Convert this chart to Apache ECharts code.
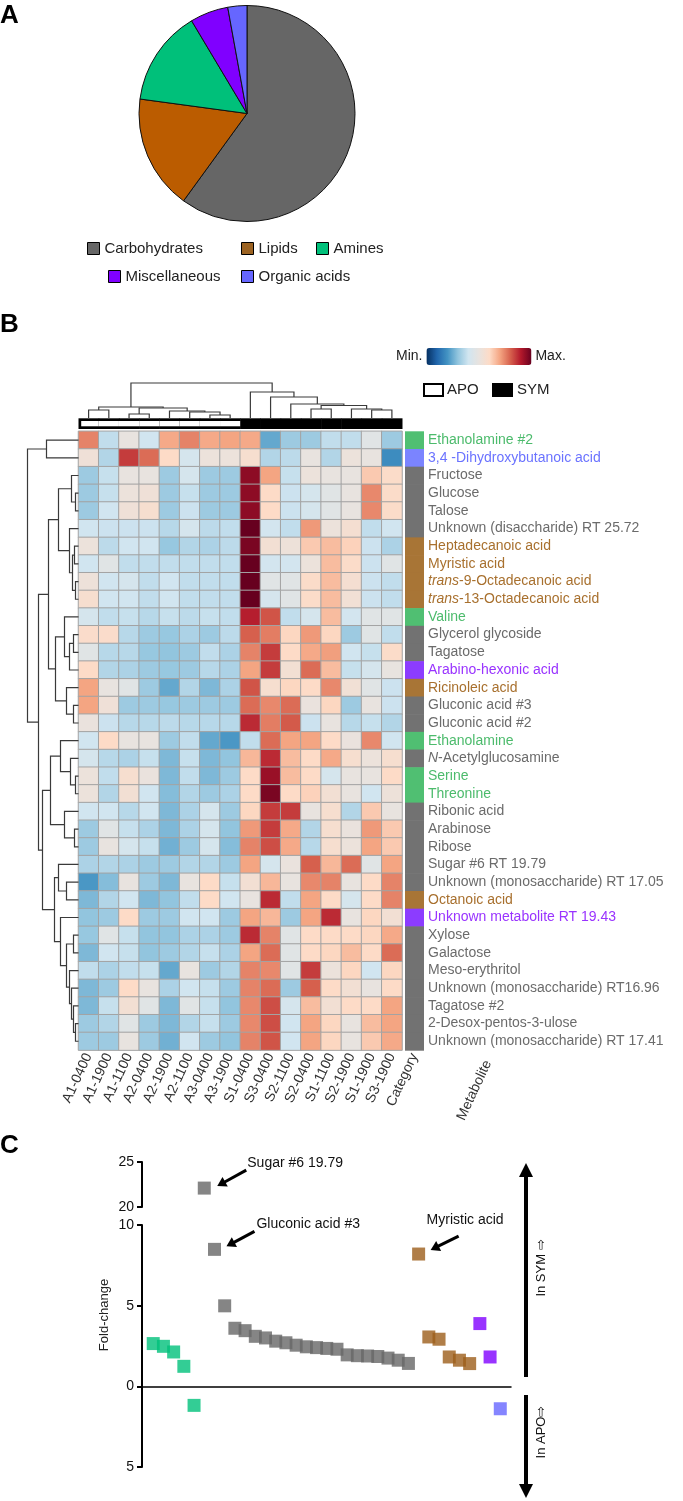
<!DOCTYPE html>
<html><head><meta charset="utf-8">
<script src="https://cdn.jsdelivr.net/npm/echarts@6/dist/echarts.min.js"></script>
<style>html,body{margin:0;padding:0;background:#fff}#c{width:683px;height:1501px}</style>
</head><body><div id="c"></div>
<script>
const FONT = '"Liberation Sans", Arial, Helvetica, sans-serif';

// ---------- Panel A ----------
const pieCategories = ['Carbohydrates','Lipids','Amines','Miscellaneous','Organic acids'];
const pieValues = [21, 6, 5, 2, 1];
const pieColors = ['#666666','#bb5c00','#00c07a','#8000ff','#6666ff'];
const legendColors = ['#666666','#9c6322','#00c07a','#8000ff','#6666ff'];

// ---------- Panel B ----------
const sampleNames = ['A1-0400','A1-1900','A1-1100','A2-0400','A2-1900','A2-1100','A3-0400','A3-1900',
                     'S1-0400','S3-0400','S2-1100','S2-0400','S1-1100','S2-1900','S1-1900','S3-1900'];
const sampleGroups = [0,0,0,0,0,0,0,0,1,1,1,1,1,1,1,1]; // 0 = APO, 1 = SYM
const metaboliteNames = ['Ethanolamine #2','3,4 -Dihydroxybutanoic acid','Fructose','Glucose','Talose',
  'Unknown (disaccharide) RT 25.72','Heptadecanoic acid','Myristic acid','*trans*-9-Octadecanoic acid',
  '*trans*-13-Octadecanoic acid','Valine','Glycerol glycoside','Tagatose','Arabino-hexonic acid',
  'Ricinoleic acid','Gluconic acid #3','Gluconic acid #2','Ethanolamine','*N*-Acetylglucosamine','Serine',
  'Threonine','Ribonic acid','Arabinose','Ribose','Sugar #6 RT 19.79','Unknown (monosaccharide) RT 17.05',
  'Octanoic acid','Unknown metabolite RT 19.43','Xylose','Galactose','Meso-erythritol',
  'Unknown (monosaccharide) RT16.96','Tagatose #2','2-Desox-pentos-3-ulose','Unknown (monosaccharide) RT 17.41'];
// category index into pieCategories
const metaboliteCategory = [2,4,0,0,0,0,1,1,1,1,2,0,0,3,1,0,0,2,0,2,2,0,0,0,0,0,1,3,0,0,0,0,0,0,0];
const heatValues = [
 [1.5,-0.75,0,-0.6,1.15,1.5,1.15,1.2,1.15,-1.55,-1.1,-1.1,-0.75,-0.75,-0.2,-1.1],
 [0.2,-0.9,2.1,1.7,0.6,-0.5,0.1,0.1,0.4,-0.9,-0.8,0,-0.9,0.1,0,-1.9],
 [-1.1,-0.7,0,0,-1.1,-0.5,-1.1,-1.1,2.7,1.2,-0.7,0.1,0,0,0.8,0.55],
 [-1.1,-0.7,0.1,0.2,-1.1,-0.7,-1.1,-1.1,2.7,0.6,-0.65,-0.5,-0.2,0,1.45,0.55],
 [-1.1,-0.6,0.2,0.4,-1.1,-0.65,-1.1,-1.1,2.7,0.6,-0.65,-0.5,-0.2,0,1.45,0.55],
 [-0.6,-0.65,-0.65,-0.65,-0.85,-0.5,-0.8,-0.75,3.0,-0.55,-0.75,1.3,0.1,0.35,-0.75,-0.6],
 [0.1,-0.8,-0.6,-0.6,-1.15,-0.9,-0.95,-0.8,2.85,0.3,0.15,0.8,0.95,0.7,-0.65,-0.95],
 [-0.6,-0.2,-0.75,-0.75,-0.75,-0.75,-0.75,-0.75,3.0,-0.55,-0.55,0.1,0.95,0.55,-0.65,-0.2],
 [0.15,-0.6,-0.5,-0.75,-0.6,-0.75,-0.75,-0.75,3.0,-0.2,-0.2,0.55,0.95,0.35,-0.65,-0.75],
 [0.4,-0.6,-0.6,-0.75,-0.6,-0.75,-0.75,-0.75,3.0,-0.5,-0.2,0.55,0.95,0.25,-0.65,-0.75],
 [-0.5,-0.75,-0.7,-0.85,-0.7,-0.8,-0.7,-0.75,2.35,1.9,-0.75,-0.5,0.95,-0.55,-0.2,-0.2],
 [0.5,0.5,-0.85,-1.1,-1.15,-0.95,-1.1,-0.8,1.8,1.55,0.65,1.3,0.65,-1.1,-0.2,-0.75],
 [-0.2,-0.85,-0.85,-1.15,-1.2,-1.1,-0.75,-0.95,1.5,2.1,0.6,1.15,1.25,-0.6,-0.7,0.55],
 [0.6,-0.9,-0.95,-1.1,-1.15,-1.1,-0.85,-0.95,1.2,2.1,0.3,1.7,0.95,-0.7,-0.5,0],
 [1.2,0,-0.2,-1.1,-1.55,-0.9,-1.35,-0.95,1.9,0.4,0.65,0.6,1.45,0.25,-0.2,-0.65],
 [1.2,0.2,-1.1,-1.1,-1.15,-1.1,-1.1,-1.1,1.7,1.45,1.7,0.05,0.65,-1.1,0,-0.65],
 [0.05,-0.65,-0.85,-0.85,-0.8,-0.85,-0.85,-0.85,2.25,1.55,1.85,-0.65,0,-0.85,-0.7,-0.9],
 [-0.6,0.6,0,0,-1.1,-0.75,-1.55,-1.75,-0.75,1.7,1.2,1.2,0.6,0.05,1.45,-0.6],
 [-0.5,-0.85,-0.95,-0.7,-1.35,-0.7,-1.35,-1.2,1.0,2.25,0.95,0.6,1.15,0.4,0.1,0.4],
 [0.1,-0.75,0.4,0.05,-1.35,-0.75,-1.35,-1.1,0.6,2.6,0.95,0.6,-0.5,0,0,0.6],
 [0.1,-0.9,0.3,-0.6,-1.3,-0.9,-1.1,-0.95,0.6,2.85,0.6,0.7,0.3,0,-0.6,0.15],
 [-0.6,-0.6,-0.85,-0.6,-1.35,-0.95,-0.5,-1.1,0.65,2.1,2.1,0,0.4,-0.9,0.8,0],
 [-1.1,-0.2,-0.7,-0.95,-1.35,-0.95,-0.5,-1.2,1.3,2.1,1.15,-0.9,0.4,0.05,1.3,0.8],
 [-1.1,0,-0.5,-0.7,-1.45,-1.1,-0.5,-1.3,1.5,1.95,1.15,-0.85,0.4,0.1,1.2,0.8],
 [-0.95,-0.9,-0.95,-1.1,-1.1,-0.9,-0.9,-1.1,1.2,-0.5,0.05,1.8,1.0,1.7,-0.2,1.2],
 [-1.75,-1.3,0,-1.1,-1.35,0,0.6,-0.7,0.3,1.0,0,1.45,1.5,0,0.6,1.5],
 [-1.35,-0.9,-0.6,-1.35,-1.2,-0.75,0.6,-0.6,0,2.25,-0.75,1.2,0.6,-0.5,0.6,1.5],
 [-1.2,-1.1,0.6,-1.1,-1.1,-0.6,-0.6,-1.1,1.2,1.0,-1.1,1.2,2.25,0,0.65,0.3],
 [-1.15,-0.2,-0.7,-1.2,-1.2,-0.95,-0.95,-1.1,2.25,1.5,-0.2,0.6,0.6,0.6,0.65,1.15],
 [-1.35,-0.6,-0.7,-1.2,-1.1,-0.9,-0.7,-0.95,1.2,1.7,-0.2,0.6,0.65,0.95,0.6,1.7],
 [-0.75,-0.95,-0.75,-0.7,-1.55,0,-1.1,-0.9,1.5,1.45,-0.2,2.1,0.1,0.65,-0.6,0.65],
 [-1.35,-1.1,0.6,0,-0.95,-0.6,-0.7,-1.1,1.5,1.7,-1.1,1.8,0.6,0.3,0,0.6],
 [-1.35,-0.7,0.3,-0.2,-1.35,-0.2,-0.7,-1.2,1.45,1.95,-0.5,0.95,0.3,0.6,0.6,1.2],
 [-1.1,-0.9,-0.2,-1.1,-1.35,-0.9,-0.7,-1.1,1.45,1.95,-0.6,1.2,0.65,0,0.95,1.2],
 [-1.1,-1.1,0,-1.1,-1.45,-0.6,-1.1,-1.2,1.5,1.9,-0.6,1.2,0.65,0,0.8,1.15]
];
// dendrograms: [left, right, mergeHeight]; leaves are indices
const colTree = [
  [[0,1,8],[[2,3,4],[4,[5,[6,7,3],6],7],10],11],
  [8,[9,[10,[[11,12,9],[13,[14,15,8],9],12.5],14],21],26],
35];
const rowTree = [[0,1,32],
  [
    [ [[2,[3,4,3],7],[5,[[6,7,4],[8,9,3],6],9],20], [[10,[[11,12,5],13,9],14],[14,[15,16,5],12],23], 30],
    [ [[17,[18,[19,20,3],8],18],[21,[22,23,4],14],28], [[24,[25,26,12],20],[27,[[28,29,5],[30,[31,[32,[33,34,3],5],7],9],12],18],24], 36],
  40],
51];
const labelColors = ['#6b6b6b','#a8702e','#4cbb6c','#9933ff','#6b73ff'];
const stripColors = ['#727272','#a87536','#50bf72','#8c3cff','#7b84ff'];
const heatColors = ['#053061','#2166ac','#4393c3','#92c5de','#d1e5f0','#e8e3df','#fddbc7','#f4a582','#d6604d','#b2182b','#67001f'];

// ---------- Panel C ----------
const amineFC = [2.65, 2.48, 2.13, 1.24, -1.18];
const carbFC = [22.1, 8.49, 4.99, 3.6, 3.45, 3.1, 3.0, 2.8, 2.7, 2.55, 2.45, 2.4, 2.35, 2.3, 1.95, 1.9, 1.88, 1.85, 1.75, 1.62, 1.42];
const lipidFC = [8.2, 3.06, 2.92, 1.82, 1.62, 1.41];
const miscFC = [3.89, 1.82];
const orgFC = [-1.39];
const fcSets = [amineFC, carbFC, lipidFC, miscFC, orgFC];
const fcCats = [2, 0, 1, 3, 4];
const scatterColors = ['#666666','#9c5e1a','#00c07a','#8000ff','#6666ff'];
const annotations = [
  {text:'Sugar #6 19.79', set:1, k:0, tx:43, ty:-25, ax:[42,-18], tip:[13,-2]},
  {text:'Gluconic acid #3', set:1, k:1, tx:42, ty:-25, ax:[40,-18], tip:[12,-3]},
  {text:'Myristic acid', set:2, k:0, tx:8, ty:-34, ax:[40,-18], tip:[12,-4]}
];

// ---------- build ----------
function dendroSegments(tree){
  const segs = [];
  (function walk(n){
    if (typeof n === 'number') return {p:n, h:0};
    const a = walk(n[0]), b = walk(n[1]);
    segs.push([a.p, a.h, b.p, b.h, n[2]]);
    return {p:(a.p+b.p)/2, h:n[2]};
  })(tree);
  return segs;
}
function dendroRender(horizontal){
  return function(params, api){
    const p1=api.value(0), h1=api.value(1), p2=api.value(2), h2=api.value(3), h=api.value(4);
    const P = horizontal ? (p,v)=>api.coord([p,v]) : (p,v)=>api.coord([v,p]);
    return {type:'polyline', shape:{points:[P(p1,h1),P(p1,h),P(p2,h),P(p2,h2)]},
            style:{stroke:'#3a3a3a', lineWidth:1.2, fill:null}};
  };
}
const heatData = [];
heatValues.forEach((row,r)=>row.forEach((v,c)=>heatData.push([c,r,v])));
const catByName = {};
metaboliteNames.forEach((n,i)=>catByName[n]=metaboliteCategory[i]);
const rich = {};
labelColors.forEach((col,k)=>{
  rich['n'+k] = {color:col, fontSize:14, fontFamily:FONT};
  rich['i'+k] = {color:col, fontSize:14, fontFamily:FONT, fontStyle:'italic'};
});

const scatterSeries = [];
let idx = 0;
fcSets.forEach((vals,s)=>{
  const lower = [], upper = [];
  vals.forEach(v=>{ (v > 15 ? upper : lower).push([idx, v]); idx++; });
  const col = scatterColors[fcCats[s]];
  const base = {type:'scatter', symbol:'rect', symbolSize:13, itemStyle:{color:col}, emphasis:{disabled:true}, z:3};
  scatterSeries.push(Object.assign({}, base, {xAxisIndex:6, yAxisIndex:6, data:lower}));
  if (upper.length) scatterSeries.push(Object.assign({}, base, {xAxisIndex:5, yAxisIndex:5, data:upper}));
});

const legendPos = [[87,241],[241,241],[316,241],[108,269],[241,269]];
const labelAxisStyle = {rotate:65, interval:0, fontSize:14, color:'#333', margin:4, fontFamily:FONT};
const yC = {type:'value', interval:5, axisLine:{show:true, onZero:false, lineStyle:{color:'#000', width:2}},
            axisTick:{show:true, length:5, lineStyle:{color:'#000', width:2}},
            axisLabel:{fontSize:14, color:'#111', margin:8, fontFamily:FONT, formatter:v=>String(Math.abs(v))},
            splitLine:{show:false}};

const option = {
  animation:false,
  backgroundColor:'#fff',
  textStyle:{fontFamily:FONT},
  legend: pieCategories.map((n,i)=>({
    left:legendPos[i][0], top:legendPos[i][1], padding:0, icon:'rect', itemWidth:12, itemHeight:12,
    selectedMode:false, data:[{name:n, itemStyle:{color:legendColors[i], borderColor:'#000', borderWidth:1}}],
    textStyle:{fontSize:15, color:'#222', fontFamily:FONT}
  })),
  grid:[
    {left:78.5, top:431.3, width:323.5, height:618.8, outerBoundsMode:'none'},
    {left:405, top:431.3, width:19, height:618.8, outerBoundsMode:'none'},
    {left:78.5, top:383, width:323.5, height:35, outerBoundsMode:'none'},
    {left:78.5, top:418.3, width:323.5, height:10.7, outerBoundsMode:'none'},
    {left:20, top:431.3, width:58.5, height:618.8, outerBoundsMode:'none'},
    {left:142, top:1162, width:369, height:45, outerBoundsMode:'none'},
    {left:142, top:1225, width:369, height:242, outerBoundsMode:'none'}
  ],
  xAxis:[
    {gridIndex:0, type:'category', data:sampleNames, axisLine:{show:false}, axisTick:{show:false}, axisLabel:labelAxisStyle, splitLine:{show:false}},
    {gridIndex:1, type:'category', data:['Category'], axisLine:{show:false}, axisTick:{show:false}, axisLabel:labelAxisStyle, splitLine:{show:false}},
    {gridIndex:2, type:'value', min:-0.5, max:15.5, show:false},
    {gridIndex:3, type:'category', data:sampleNames, show:false},
    {gridIndex:4, type:'value', min:0, max:58.5, inverse:true, show:false},
    {gridIndex:5, type:'value', min:-1.1, max:35.05, show:false},
    {gridIndex:6, type:'value', min:-1.1, max:35.05, axisLine:{show:true, onZero:true, lineStyle:{color:'#000', width:1.5}},
     axisTick:{show:false}, axisLabel:{show:false}, splitLine:{show:false}}
  ],
  yAxis:[
    {gridIndex:0, type:'category', data:metaboliteNames, inverse:true, show:false},
    {gridIndex:1, type:'category', data:metaboliteNames, inverse:true, position:'right',
     axisLine:{show:false}, axisTick:{show:false},
     axisLabel:{margin:4, fontSize:14, interval:0, hideOverlap:false, rich:rich, formatter:(v)=>{
       const k = catByName[v];
       return v.split('*').map((s,j)=> s ? '{'+(j%2?'i':'n')+k+'|'+s+'}' : '').join('');
     }}},
    {gridIndex:2, type:'value', min:0, max:35, show:false},
    {gridIndex:3, type:'value', min:0, max:1, show:false},
    {gridIndex:4, type:'value', min:-0.5, max:34.5, inverse:true, show:false},
    Object.assign({gridIndex:5, min:20, max:25}, yC),
    Object.assign({gridIndex:6, min:-5, max:10}, yC)
  ],
  visualMap:{
    type:'continuous', seriesIndex:1, min:-3, max:3, orient:'horizontal', left:381, top:333,
    itemWidth:17, itemHeight:105, text:['Max.','Min.'], textGap:4, calculable:false, hoverLink:false,
    inRange:{color:heatColors}, textStyle:{fontSize:14, color:'#222', fontFamily:FONT}
  },
  series:[
    {type:'pie', center:[247,113.5], radius:108, startAngle:90, clockwise:true, label:{show:false}, labelLine:{show:false},
     emphasis:{disabled:true}, itemStyle:{borderColor:'#111', borderWidth:1},
     data:pieCategories.map((n,i)=>({name:n, value:pieValues[i], itemStyle:{color:pieColors[i]}}))},
    {type:'heatmap', xAxisIndex:0, yAxisIndex:0, data:heatData, progressive:0,
     itemStyle:{borderColor:'#a3a3a3', borderWidth:1}, emphasis:{disabled:true}},
    {type:'custom', xAxisIndex:1, yAxisIndex:1, data:metaboliteNames.map((n,r)=>[0,r,metaboliteCategory[r]]),
     renderItem:(params,api)=>{
       const c = api.coord([0, api.value(1)]); const s = api.size([1,1]);
       return {type:'rect', shape:{x:c[0]-s[0]/2, y:c[1]-s[1]/2, width:s[0], height:s[1]+0.6}, style:{fill:stripColors[api.value(2)]}};
     }},
    {type:'custom', xAxisIndex:2, yAxisIndex:2, data:dendroSegments(colTree), renderItem:dendroRender(true)},
    {type:'custom', xAxisIndex:3, yAxisIndex:3, data:sampleGroups.map((g,i)=>[i,g]),
     renderItem:(params,api)=>{
       const i = api.value(0); const c = api.coord([i,0]); const s = api.size([1,0]); const cs = params.coordSys;
       const x0 = c[0]-s[0]/2, w = s[0];
       const ch = [{type:'rect', shape:{x:x0, y:cs.y, width:w+0.5, height:cs.height}, style:{fill:'#000'}}];
       if (api.value(1) === 0) {
         const ins = 2.7, left = i === 0 ? ins : 0;
         ch.push({type:'rect', shape:{x:x0+left, y:cs.y+ins, width:w-left+0.5, height:cs.height-2*ins}, style:{fill:'#fff'}});
       }
       return {type:'group', children:ch};
     }},
    {type:'custom', xAxisIndex:4, yAxisIndex:4, data:dendroSegments(rowTree), renderItem:dendroRender(false)}
  ].concat(scatterSeries)
};

const chart = echarts.init(document.getElementById('c'), null, {renderer:'canvas'});
chart.setOption(option);

// ---------- annotations / decorations ----------
function txt(t, x, y, o){
  o = o || {};
  return {type:'text', x:x, y:y, rotation:o.rot||0, z:10,
    style:{text:t, fontSize:o.size||14, fontFamily:FONT, fontWeight:o.weight||'normal', fill:o.color||'#111',
           textAlign:o.align||'left', textVerticalAlign:o.va||'middle', align:o.align||'left', verticalAlign:o.va||'middle'}};
}
function arrow(x1,y1,x2,y2,w,L,H){
  const dx=x2-x1, dy=y2-y1, len=Math.sqrt(dx*dx+dy*dy), ux=dx/len, uy=dy/len;
  const bx=x2-ux*L, by=y2-uy*L, px=-uy, py=ux;
  return {type:'group', z:10, children:[
    {type:'line', shape:{x1:x1,y1:y1,x2:bx+ux*1,y2:by+uy*1}, style:{stroke:'#000', lineWidth:w}},
    {type:'polygon', shape:{points:[[x2,y2],[bx+px*H,by+py*H],[bx-px*H,by-py*H]]}, style:{fill:'#000'}}
  ]};
}
const gr = [];
gr.push(txt('A', 0, 3, {size:26, weight:'bold', va:'top', color:'#000'}));
gr.push(txt('B', 0, 312, {size:26, weight:'bold', va:'top', color:'#000'}));
gr.push(txt('C', 0, 1133, {size:26, weight:'bold', va:'top', color:'#000'}));
// APO / SYM legend
gr.push({type:'rect', shape:{x:424, y:384, width:19, height:12}, style:{fill:'#fff', stroke:'#000', lineWidth:2}});
gr.push(txt('APO', 447, 390, {size:15, color:'#222'}));
gr.push({type:'rect', shape:{x:492, y:383, width:21, height:14}, style:{fill:'#000'}});
gr.push(txt('SYM', 517, 390, {size:15, color:'#222'}));
// Metabolite column label
gr.push(txt('Metabolite', 488, 1061, {size:14, color:'#333', align:'right', rot:65*Math.PI/180}));
// Fold-change
gr.push(txt('Fold-change', 104, 1315, {size:13, color:'#222', align:'center', rot:Math.PI/2}));
// point annotations
annotations.forEach(a=>{
  let start = 0; for (let s=0; s<a.set; s++) start += fcSets[s].length;
  const v = fcSets[a.set][a.k];
  const gi = v > 15 ? 5 : 6;
  const p = chart.convertToPixel({gridIndex:gi}, [start + a.k, v]);
  gr.push(txt(a.text, p[0]+a.tx, p[1]+a.ty, {size:14, color:'#111'}));
  gr.push(arrow(p[0]+a.ax[0], p[1]+a.ax[1], p[0]+a.tip[0], p[1]+a.tip[1], 3, 9, 5.5));
});
// direction arrows
gr.push(arrow(526, 1377, 526, 1163, 4, 14, 7));
gr.push(arrow(526, 1395, 526, 1498, 4, 14, 7));
gr.push(txt('In SYM \u21E8', 541, 1268, {size:13, color:'#111', align:'center', rot:Math.PI/2}));
gr.push(txt('In APO\u21E8', 541, 1432, {size:13, color:'#111', align:'center', rot:Math.PI/2}));
chart.setOption({graphic:gr});
</script></body></html>
